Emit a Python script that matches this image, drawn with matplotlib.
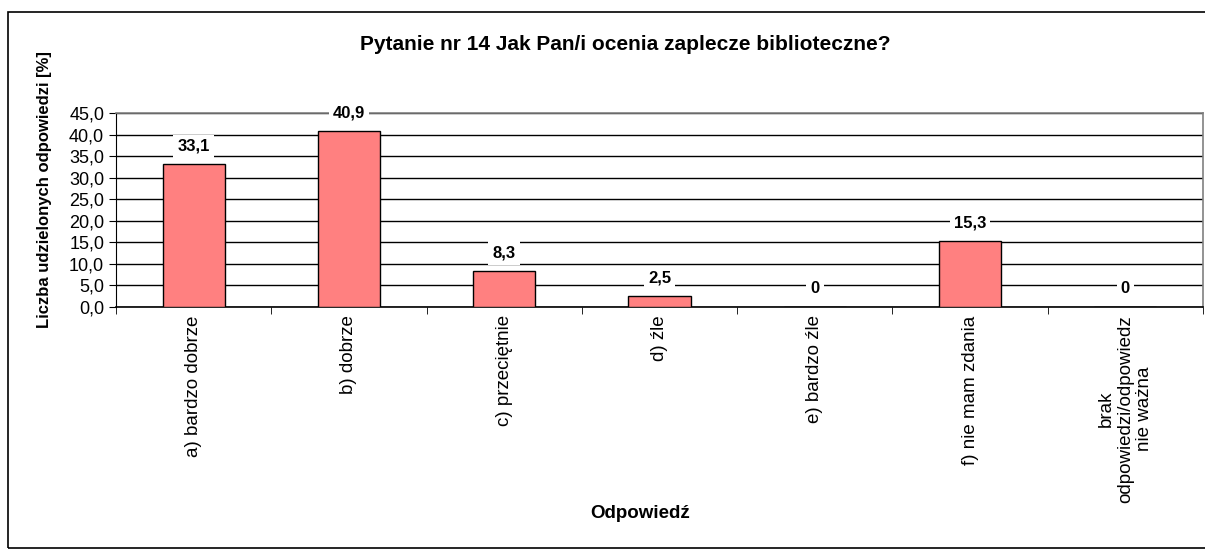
import matplotlib
matplotlib.use("Agg")
import matplotlib.pyplot as plt
from matplotlib.patches import Rectangle
import numpy as np

plt.rcParams['font.family'] = ['Liberation Sans', 'DejaVu Sans']

categories = ["a) bardzo dobrze", "b) dobrze", "c) przeciętnie", "d) źle",
              "e) bardzo źle", "f) nie mam zdania",
              "brak\nodpowiedzi/odpowiedz\nnie ważna"]
values = [33.1, 40.9, 8.3, 2.5, 0, 15.3, 0]
value_labels = ["33,1", "40,9", "8,3", "2,5", "0", "15,3", "0"]
yticks = [0, 5, 10, 15, 20, 25, 30, 35, 40, 45]
ytick_labels = ["0,0", "5,0", "10,0", "15,0", "20,0", "25,0", "30,0", "35,0", "40,0", "45,0"]

fig = plt.figure(figsize=(12.05, 5.51), dpi=100)
fig.patches.append(Rectangle((8/1205, 3/551), 1.2, 536/551, transform=fig.transFigure,
                             fill=False, edgecolor='black', linewidth=1.2))
ax = fig.add_axes([116/1205, 1-307/551, (1203-116)/1205, (307-113)/551])

x = np.arange(len(categories))
ax.set_axisbelow(True)
ax.yaxis.grid(True, color='black', linewidth=1)
ax.bar(x, values, width=0.4, color='#FF8080', edgecolor='black', linewidth=1, zorder=3)
for xi, v, lab in zip(x, values, value_labels):
    ax.text(xi, v + 4.2, lab, ha='center', va='center', fontsize=12, fontweight='bold',
            bbox=dict(facecolor='white', edgecolor='none', pad=3), zorder=4, clip_on=False)

ax.set_xlim(-0.5, len(categories) - 0.5)
ax.set_ylim(0, 45)
ax.set_yticks(yticks)
ax.set_yticklabels(ytick_labels, fontsize=13)
ax.set_xticks(x)
ax.set_xticklabels(categories, rotation=90, fontsize=13.5, va='top', ha='center',
                   linespacing=1.15, multialignment='center')
ax.tick_params(axis='x', length=0, pad=6)
ax.set_xticks(np.arange(-0.5, len(categories)), minor=True)
ax.tick_params(axis='x', which='minor', length=5, direction='out')
ax.tick_params(axis='y', length=5, direction='out')

for s in ['top', 'right']:
    ax.spines[s].set_color('#808080')
    ax.spines[s].set_linewidth(1.2)
ax.spines['left'].set_color('black')
ax.spines['bottom'].set_color('black')
ax.spines['bottom'].set_linewidth(1.2)

fig.text(625/1205, 1-45/551, "Pytanie nr 14 Jak Pan/i ocenia zaplecze biblioteczne?",
         ha='center', va='center', fontsize=15, fontweight='bold')
fig.text(45/1205, 1-190/551, "Liczba udzielonych odpowiedzi [%]", rotation=90,
         ha='center', va='center', fontsize=12, fontweight='bold')
fig.text(640/1205, 1-514/551, "Odpowiedź", ha='center', va='center',
         fontsize=13.5, fontweight='bold')

fig.savefig("out.png", dpi=100)
